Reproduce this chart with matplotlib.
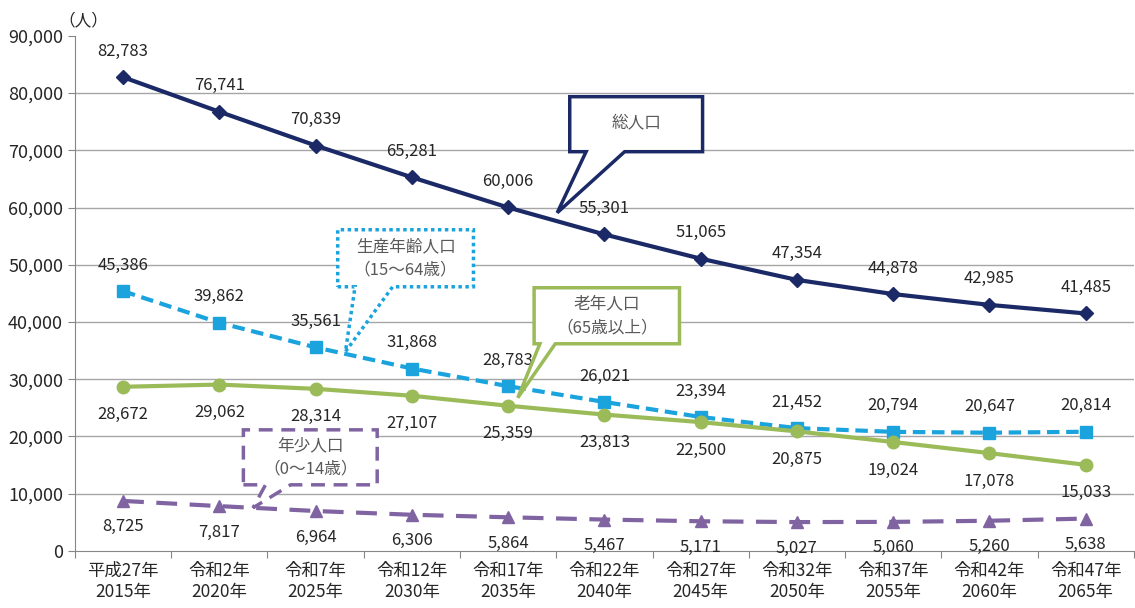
import numpy as np
import matplotlib
matplotlib.use("Agg")
from matplotlib import pyplot as plt
from matplotlib.patches import Polygon

plt.rcParams['font.family'] = ['Noto Sans CJK JP', 'DejaVu Sans']

years = ['平成27年\n2015年', '令和2年\n2020年', '令和7年\n2025年', '令和12年\n2030年',
         '令和17年\n2035年', '令和22年\n2040年', '令和27年\n2045年', '令和32年\n2050年',
         '令和37年\n2055年', '令和42年\n2060年', '令和47年\n2065年']
total = [82783, 76741, 70839, 65281, 60006, 55301, 51065, 47354, 44878, 42985, 41485]
working = [45386, 39862, 35561, 31868, 28783, 26021, 23394, 21452, 20794, 20647, 20814]
elderly = [28672, 29062, 28314, 27107, 25359, 23813, 22500, 20875, 19024, 17078, 15033]
young = [8725, 7817, 6964, 6306, 5864, 5467, 5171, 5027, 5060, 5260, 5638]

navy = '#1B2A66'
blue = '#1BA3DE'
green = '#9BBB59'
purple = '#8064A2'
txt = '#262626'

fig = plt.figure(figsize=(11.35, 6.08), dpi=100)
ax = fig.add_axes([0.066, 0.094, 0.933, 0.847])
x = np.arange(len(years))

ax.plot(x, total, color=navy, lw=3, marker='D', ms=7, zorder=5)
ax.plot(x, working, color=blue, lw=3, ls=(0, (3, 1.6)), marker='s', ms=8, zorder=5)
ax.plot(x, elderly, color=green, lw=3, marker='o', ms=9, zorder=5)
ax.plot(x, young, color=purple, lw=3, ls=(0, (5, 3)), marker='^', ms=8, zorder=5)

def labels(vals, dy):
    for i, v in enumerate(vals):
        ax.annotate(f'{v:,}', (i, v), xytext=(0, dy), textcoords='offset pixels',
                    ha='center', va='center', fontsize=12, color=txt, zorder=6)

labels(total, 26)
labels(working, 26)
labels(elderly, -28)
labels(young, -26)

def callout(x0, x1, y0, y1, b0, b1, tip, text, color, ls):
    pts = [(x0, y0), (b0, y0), tip, (b1, y0), (x1, y0), (x1, y1), (x0, y1)]
    ax.add_patch(Polygon(pts, closed=True, facecolor='white', edgecolor=color,
                         lw=2.5, ls=ls, zorder=7))
    ax.text((x0 + x1) / 2, (y0 + y1) / 2, text, ha='center', va='center',
            fontsize=12, color='#595959', linespacing=1.5, zorder=8)

callout(4.64, 6.02, 69760, 79370, 4.81, 5.21, (4.51, 59090), '総人口', navy, '-')
callout(2.23, 3.64, 46150, 56120, 2.41, 2.80, (2.31, 34790),
        '生産年齢人口\n（15～64歳）', blue, (0, (1, 1)))
callout(4.27, 5.78, 36190, 45980, 4.33, 4.49, (4.10, 26750),
        '老年人口\n（65歳以上）', green, '-')
callout(1.25, 2.64, 11540, 21150, 1.48, 1.74, (1.35, 7520),
        '年少人口\n（0～14歳）', purple, (0, (4, 2.5)))

ax.set_xlim(-0.5, 10.5)
ax.set_ylim(0, 90000)
ax.set_yticks(np.arange(0, 90001, 10000))
ax.set_yticklabels([f'{v:,}' for v in range(0, 90001, 10000)], fontsize=13, color=txt)
ax.set_xticks(np.arange(-0.5, 10.6, 1))
ax.xaxis.set_major_formatter(plt.NullFormatter())
ax.set_xticks(x, minor=True)
ax.set_xticklabels(years, minor=True, fontsize=12.5, color=txt, linespacing=1.25)
ax.tick_params(axis='x', which='minor', length=0, pad=8)
ax.tick_params(axis='x', which='major', length=5, color='#868686')
ax.tick_params(axis='y', length=5, color='#868686')
for v in range(10000, 90000, 10000):
    ax.axhline(v, color='#A6A6A6', lw=1, zorder=1)
for s in ['top', 'right']:
    ax.spines[s].set_visible(False)
for s in ['left', 'bottom']:
    ax.spines[s].set_color('#868686')
ax.text(-0.016, 1.012, '（人）', transform=ax.transAxes, ha='left', va='bottom',
        fontsize=12, color=txt)

fig.savefig('out.png', dpi=100)
